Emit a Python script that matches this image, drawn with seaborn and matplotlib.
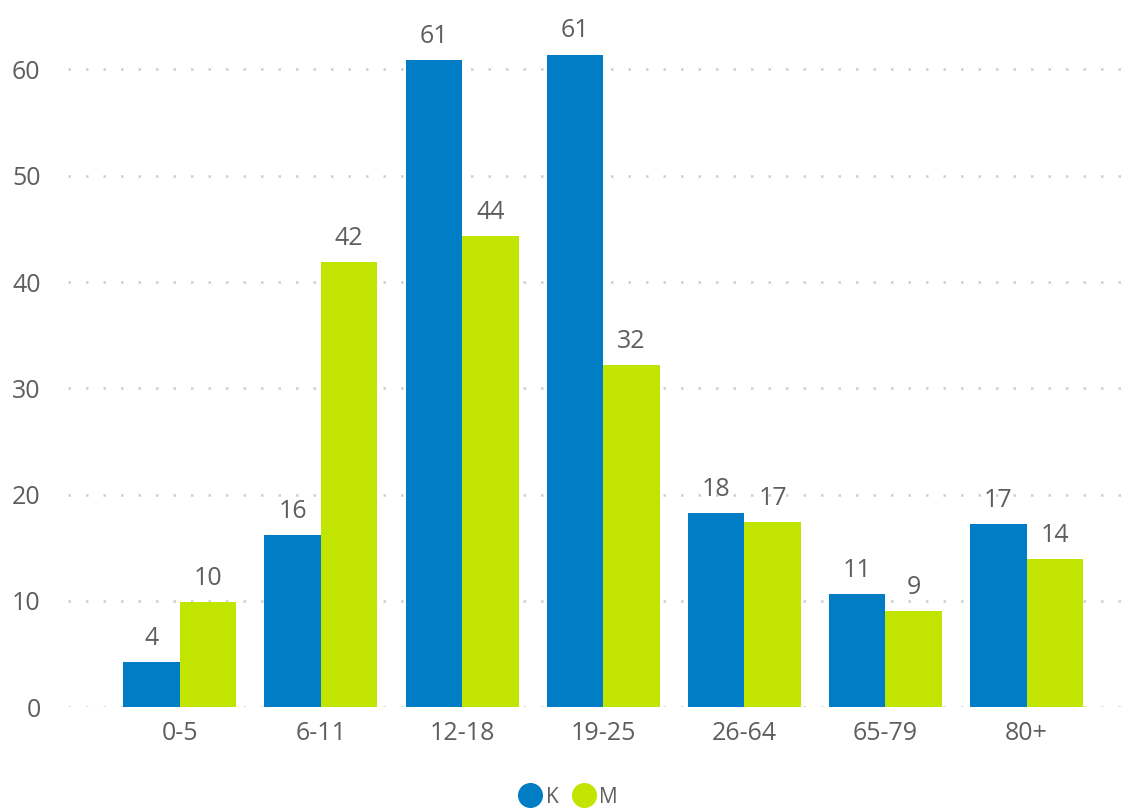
import pandas as pd
import matplotlib.pyplot as plt
import seaborn as sns
from matplotlib.lines import Line2D

# Values (labels show them rounded)
age_groups = ['0-5', '6-11', '12-18', '19-25', '26-64', '65-79', '80+']
k_values = [4.2, 16.2, 60.9, 61.4, 18.3, 10.6, 17.2]
m_values = [9.9, 41.9, 44.3, 32.2, 17.4, 9.0, 13.9]
series_names = ['K', 'M']

colors = {'K': '#007DC5', 'M': '#C1E500'}
text_color = '#605E5C'

sns.set_theme(style="white")
plt.rcParams['font.family'] = ['Open Sans', 'DejaVu Sans']

df = pd.DataFrame({
    'Age': age_groups * 2,
    'Value': k_values + m_values,
    'Sex': ['K'] * len(age_groups) + ['M'] * len(age_groups),
})

fig = plt.figure(figsize=(11.39, 8.10), dpi=100)
ax = fig.add_axes([0.06, 0.127, 0.928, 0.866])

sns.barplot(data=df, x='Age', y='Value', hue='Sex', order=age_groups,
            hue_order=series_names, palette=colors, width=0.8,
            saturation=1, errorbar=None, legend=False, linewidth=0, ax=ax)

# Data labels
for container in ax.containers:
    ax.bar_label(container, labels=[f"{round(b.get_height()):.0f}" for b in container],
                 padding=8, fontsize=18, color=text_color)

ax.set_ylim(0, 66)
ax.set_xlim(-0.79, 6.7)
ax.set_yticks([0, 10, 20, 30, 40, 50, 60])
ax.yaxis.grid(True, linestyle=(0, (1, 6)), linewidth=1.8, color='#CFCFCF')
ax.set_axisbelow(True)
ax.set_xlabel('')
ax.set_ylabel('')
for s in ax.spines.values():
    s.set_visible(False)
ax.tick_params(axis='both', length=0, labelsize=18, colors=text_color)
ax.tick_params(axis='x', pad=10)
ax.tick_params(axis='y', pad=20)

# Legend with round markers at the bottom
handles = [Line2D([0], [0], marker='o', linestyle='', markersize=17,
                  markerfacecolor=colors[n], markeredgecolor=colors[n]) for n in series_names]
fig.legend(handles, series_names, loc='center', bbox_to_anchor=(0.495, 0.016),
           ncol=2, frameon=False, fontsize=15, handletextpad=-0.25, columnspacing=0.2,
           labelcolor=text_color)

fig.savefig('out.png', dpi=100)
